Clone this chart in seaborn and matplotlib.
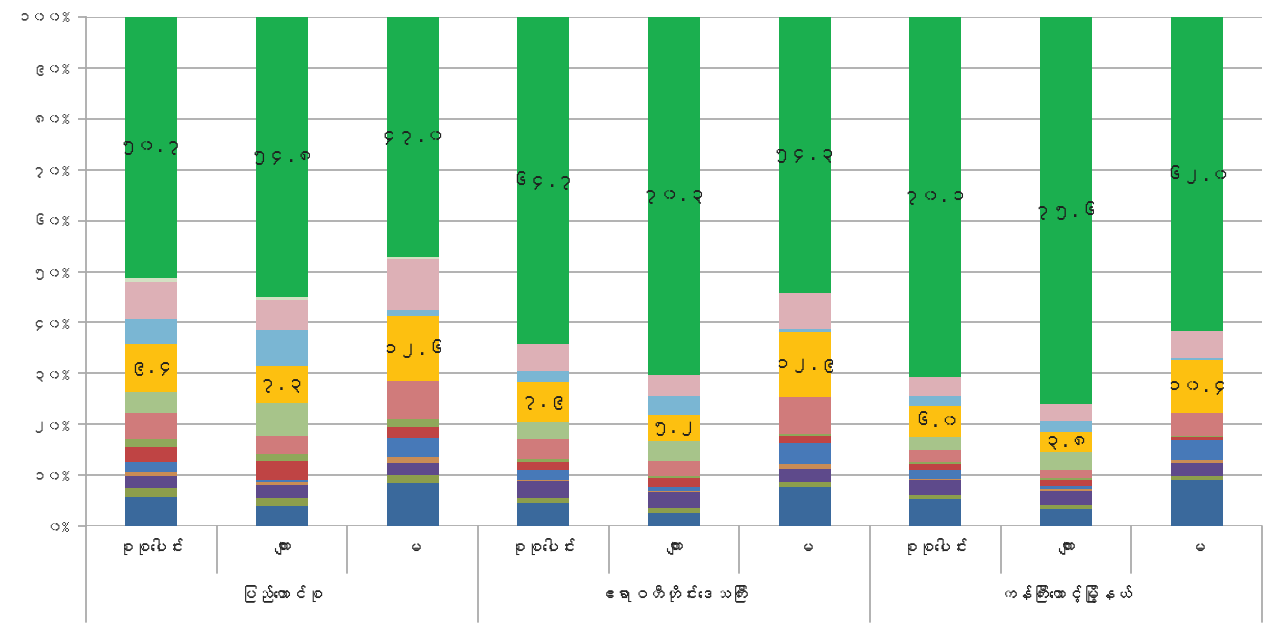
import numpy as np
import pandas as pd
import matplotlib
matplotlib.use("Agg")
import matplotlib.pyplot as plt
import seaborn as sns
from matplotlib import font_manager
from matplotlib.transforms import blended_transform_factory
from matplotlib.lines import Line2D

# ---------------- data ----------------
groups = ["ပြည်ထောင်စု", "ဧရာဝတီတိုင်းဒေသကြီး", "ကန်ကြီးထောင့်မြို့နယ်"]
subgroups = ["စုစုပေါင်း", "ကျား", "မ"]

# segments from bottom to top (values per bar, 9 bars)
blue1      = [5.7, 3.9, 8.4, 4.5, 2.5, 7.7, 5.2, 3.3, 9.0]
olive1     = [1.6, 1.6, 1.6, 1.0, 1.0, 1.0, 0.8, 0.8, 0.8]
purple     = [2.4, 2.6, 2.4, 3.3, 3.1, 2.6, 2.9, 2.8, 2.7]
orange     = [0.8, 0.5, 1.0, 0.3, 0.3, 1.0, 0.3, 0.3, 0.6]
blue2      = [2.0, 0.5, 3.9, 2.0, 0.8, 4.0, 1.8, 0.6, 3.8]
red        = [2.9, 3.6, 2.0, 1.6, 1.8, 1.5, 1.1, 1.2, 0.6]
olive2     = [1.6, 1.5, 1.6, 0.5, 0.4, 0.3, 0.3, 0.3, 0.3]
salmon     = [4.9, 3.5, 7.5, 4.0, 2.9, 7.2, 2.4, 1.6, 4.5]
lightgreen = [4.1, 6.3, 0.0, 3.4, 3.8, 0.0, 2.6, 3.6, 0.0]
yellow     = [9.4, 7.3, 12.6, 7.9, 5.2, 12.9, 6.0, 3.8, 10.4]
lightblue  = [4.9, 7.1, 1.2, 2.2, 3.7, 0.5, 2.0, 2.3, 0.5]
pink       = [7.2, 5.9, 10.0, 5.2, 4.1, 7.2, 3.6, 3.3, 5.2]
pale       = [0.7, 0.6, 0.3, 0.0, 0.0, 0.0, 0.0, 0.0, 0.0]
green      = [50.7, 54.8, 47.0, 64.7, 70.3, 54.3, 70.1, 75.6, 62.0]

series = [blue1, olive1, purple, orange, blue2, red, olive2, salmon,
          lightgreen, yellow, lightblue, pink, pale, green]
series_colors = ["#3A699C", "#8C9E4C", "#5E4A8B", "#C98C55", "#4779B8",
                 "#BF4444", "#8FA85A", "#D07B7B", "#A7C48A", "#FDC010",
                 "#7AB6D3", "#DDB0B6", "#D3E0C3", "#1BAF4F"]
labelled = {9: yellow, 13: green}   # series index -> values shown as labels

ytick_values = [0, 10, 20, 30, 40, 50, 60, 70, 80, 90, 100]

# ---------------- fonts ----------------
sns.set_theme(style="white")


def find_myanmar_font():
    try:
        from fontTools.ttLib import TTFont
    except Exception:
        return None
    for entry in font_manager.fontManager.ttflist:
        try:
            tt = TTFont(entry.fname, fontNumber=0, lazy=True)
            cmap = tt.getBestCmap() or {}
            if 0x1000 in cmap and 0x1040 in cmap:
                return entry.name
        except Exception:
            continue
    return None


mm_font = find_myanmar_font()
families = ([mm_font] if mm_font else []) + ["DejaVu Sans"]
plt.rcParams["font.family"] = families

MM_DIGITS = str.maketrans("0123456789", "၀၁၂၃၄၅၆၇၈၉")


def mm(s):
    return str(s).translate(MM_DIGITS)


# ---------------- build frame ----------------
n = len(green)
keys = [f"{g}|{s}" for g in groups for s in subgroups]
vals = np.array(series, dtype=float)          # (n_series, n_bars)
totals = vals.sum(axis=0)
shares = vals / totals * 100.0
cum = np.cumsum(shares, axis=0)

df = pd.DataFrame({"key": keys})
for k in range(len(series)):
    df[f"cum{k}"] = cum[k]

# ---------------- figure ----------------
W, H = 1270, 624
fig = plt.figure(figsize=(W / 100, H / 100), dpi=100)
fig.patch.set_facecolor("white")
ax = fig.add_axes([86 / W, (H - 526) / H, 1176 / W, 509 / H])

grid_c = "#ABABAB"
for yv in ytick_values:
    ax.axhline(yv, color=grid_c, lw=1.3, zorder=0)

# draw stacked layers: top-most cumulative first
for k in range(len(series) - 1, -1, -1):
    sns.barplot(data=df, x="key", y=f"cum{k}", order=keys, color=series_colors[k],
                saturation=1, width=0.4, errorbar=None, linewidth=0, ax=ax, zorder=2)

# data labels
for k, values in labelled.items():
    for i in range(n):
        bottom = cum[k - 1][i] if k > 0 else 0.0
        top = cum[k][i]
        ax.text(i, (bottom + top) / 2, mm(f"{values[i]:.1f}"), ha="center", va="center",
                fontsize=13.5, color="#1E1E1E", zorder=5)

ax.set_xlim(-0.5, n - 0.5)
ax.set_ylim(0, 100)
ax.set_xlabel("")
ax.set_ylabel("")
ax.set_yticks(ytick_values)
ax.set_yticklabels([mm(f"{v}%") for v in ytick_values], fontsize=11, color="#404040")
ax.tick_params(axis="y", length=6, width=1.3, color=grid_c, pad=6, left=True)
ax.set_xticks([])
for side in ["top", "right", "bottom"]:
    ax.spines[side].set_visible(False)
ax.spines["left"].set_color(grid_c)
ax.spines["left"].set_linewidth(1.3)
ax.set_facecolor("white")

# two-level category axis
tr = blended_transform_factory(ax.transData, ax.transAxes)
short_y = -(573 - 526) / 509
long_y = -(622 - 526) / 509
for b in range(n + 1):
    x = b - 0.5
    y1 = long_y if b % 3 == 0 else short_y
    ax.add_line(Line2D([x, x], [0, y1], transform=tr, color=grid_c, lw=1.3, clip_on=False))

for i, key in enumerate(keys):
    sub = key.split("|")[1]
    ax.text(i, -(548 - 526) / 509, sub, transform=tr, ha="center", va="center",
            fontsize=12, color="#262626")
for gi, g in enumerate(groups):
    ax.text(gi * 3 + 1, -(594 - 526) / 509, g, transform=tr, ha="center", va="center",
            fontsize=12, color="#262626")

fig.savefig("out.png", dpi=100, facecolor="white")
